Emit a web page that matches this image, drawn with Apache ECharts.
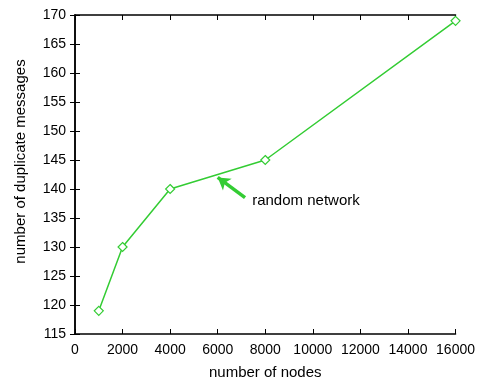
<!DOCTYPE html>
<html>
<head>
<meta charset="utf-8">
<script src="https://cdn.jsdelivr.net/npm/echarts@6/dist/echarts.min.js"></script>
<style>
  html, body { margin: 0; padding: 0; background: #fff; }
  #chart { width: 478px; height: 385px; }
</style>
</head>
<body>
<div id="chart"></div>
<script>
// Network size vs. duplicate message count
const nodes = [1000, 2000, 4000, 8000, 16000];
const duplicates = [119, 130, 140, 145, 169];
const seriesName = 'random network';
// Arrow from label toward the curve: [tail, head] in data units
const arrowTail = [7150, 138.5];
const arrowHead = [6000, 142];
const labelAt = [7450, 137.9];

const green = '#33cc33';
const font = 'Liberation Sans, Arial, Helvetica, sans-serif';

const points = nodes.map((n, i) => [n, duplicates[i]]);

const chart = echarts.init(document.getElementById('chart'), null, { renderer: 'canvas' });

const tickStyle = { show: true, inside: true, length: 5, lineStyle: { color: '#000', width: 1 } };
const lineStyle = { show: true, lineStyle: { color: '#000', width: 1.5 } };
const plain = v => String(v);

chart.setOption({
  animation: false,
  backgroundColor: '#fff',
  grid: { left: 75, right: 22, top: 15, bottom: 47, containLabel: false },
  xAxis: [
    {
      type: 'value', min: 0, max: 16000, interval: 2000,
      name: 'number of nodes', nameLocation: 'middle', nameGap: 31,
      nameTextStyle: { fontFamily: font, fontSize: 15, color: '#000' },
      axisLine: lineStyle, axisTick: tickStyle, splitLine: { show: false },
      axisLabel: { fontFamily: font, fontSize: 14, color: '#000', margin: 9, formatter: plain }
    },
    {
      type: 'value', position: 'top', min: 0, max: 16000, interval: 2000,
      axisLine: lineStyle, axisTick: tickStyle, splitLine: { show: false },
      axisLabel: { show: false }
    }
  ],
  yAxis: [
    {
      type: 'value', min: 115, max: 170, interval: 5,
      name: 'number of duplicate messages', nameLocation: 'middle', nameGap: 47,
      nameTextStyle: { fontFamily: font, fontSize: 15, color: '#000', padding: [0, 0, 0, 26] },
      axisLine: lineStyle, axisTick: tickStyle, splitLine: { show: false },
      axisLabel: { fontFamily: font, fontSize: 14, color: '#000', margin: 9, formatter: plain }
    },
    {
      type: 'value', position: 'right', min: 115, max: 170, interval: 5,
      axisLine: lineStyle, axisTick: tickStyle, splitLine: { show: false },
      axisLabel: { show: false }
    }
  ],
  series: [
    {
      name: seriesName,
      type: 'line',
      data: points,
      symbol: 'diamond',
      symbolSize: 9,
      showAllSymbol: true,
      itemStyle: { color: '#fff', borderColor: green, borderWidth: 1.2 },
      lineStyle: { color: green, width: 1.5 },
      markLine: {
        silent: true,
        symbol: ['none', 'arrow'],
        symbolSize: [11, 12],
        label: { show: false },
        lineStyle: { color: green, width: 3.5, type: 'solid' },
        data: [[{ coord: arrowTail }, { coord: arrowHead }]]
      },
      markPoint: {
        silent: true,
        symbol: 'circle',
        symbolSize: 0,
        data: [{ coord: labelAt }],
        label: {
          show: true, formatter: seriesName, position: 'right', distance: 0,
          fontFamily: font, fontSize: 15, color: '#000'
        }
      }
    }
  ]
});
</script>
</body>
</html>
